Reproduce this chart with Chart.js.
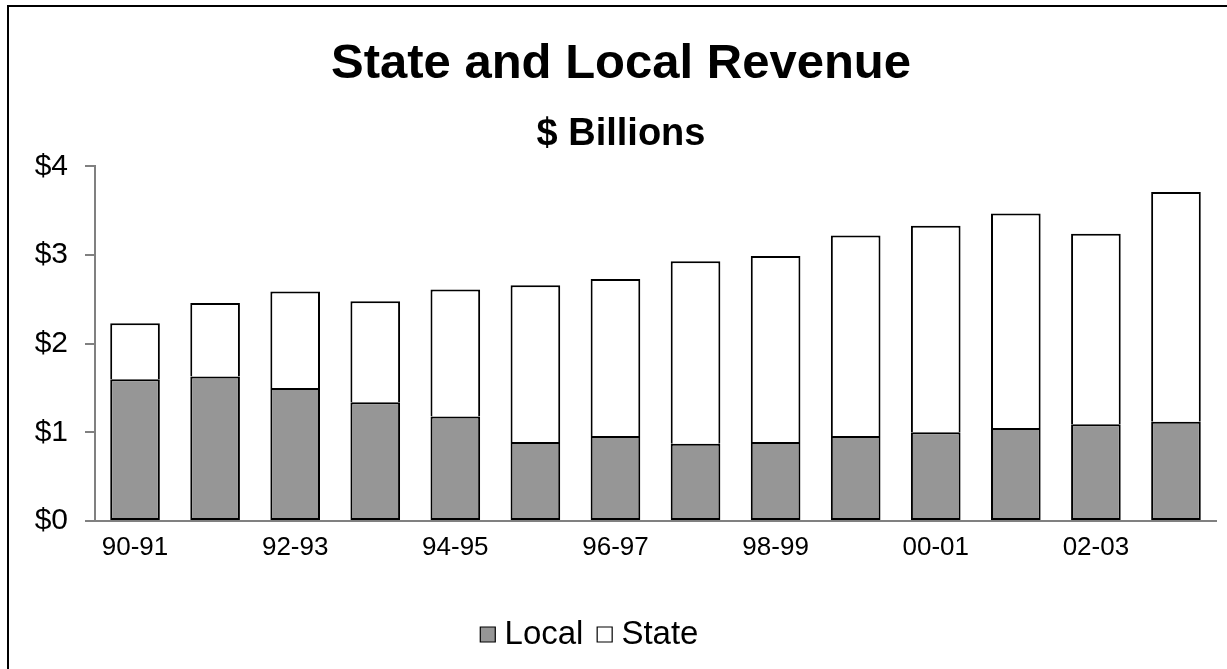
<!DOCTYPE html>
<html>
<head>
<meta charset="utf-8">
<script src="https://cdn.jsdelivr.net/npm/chart.js@4.4.1/dist/chart.umd.min.js"></script>
<style>
  html, body { margin: 0; padding: 0; background: #fff; }
  #wrap { position: relative; width: 1227px; height: 669px; overflow: hidden; }
  #frame { position: absolute; left: 7px; top: 5px; width: 1240px; height: 700px; border: 2px solid #000; box-sizing: border-box; }
  #c { position: absolute; left: 0; top: 0; }
</style>
</head>
<body>
<div id="wrap">
  <div id="frame"></div>
  <canvas id="c" width="1227" height="669"></canvas>
</div>
<script>
const categories = ['90-91','91-92','92-93','93-94','94-95','95-96','96-97','97-98','98-99','99-00','00-01','01-02','02-03','03-04'];
const localValues = [1.60, 1.63, 1.50, 1.34, 1.18, 0.89, 0.96, 0.87, 0.89, 0.96, 1.00, 1.05, 1.09, 1.12];
const totalValues = [2.23, 2.46, 2.59, 2.48, 2.61, 2.66, 2.73, 2.93, 2.99, 3.22, 3.33, 3.47, 3.24, 3.71];
const stateValues = totalValues.map((t, i) => +(t - localValues[i]).toFixed(2));
const yTicks = [0, 1, 2, 3, 4];

const FONT = '"Liberation Sans", Arial, sans-serif';
Chart.defaults.font.family = FONT;
Chart.defaults.color = '#000';

// nudge title/subtitle right and the legend left, as in the reference
const blockShift = {
  id: 'blockShift',
  afterLayout(chart) {
    chart.boxes.forEach(b => {
      if (b === chart.legend) { b.left -= 20; b.right -= 20; }
      else if (b.options && typeof b.options.text === 'string') { b.left += 8; b.right += 8; }
    });
  }
};

new Chart(document.getElementById('c'), {
  type: 'bar',
  data: {
    labels: categories,
    datasets: [
      { label: 'Local', data: localValues, backgroundColor: '#969696', borderColor: '#000', borderWidth: 2, borderSkipped: false, categoryPercentage: 1, barPercentage: 0.62 },
      { label: 'State', data: stateValues, backgroundColor: '#fff', borderColor: '#000', borderWidth: 2, borderSkipped: 'bottom', categoryPercentage: 1, barPercentage: 0.62 }
    ]
  },
  plugins: [blockShift],
  options: {
    responsive: false,
    animation: false,
    layout: { padding: { left: 10, right: 11, top: 35, bottom: 12 } },
    plugins: {
      title: { display: true, text: 'State and Local Revenue', font: { size: 49, weight: 'bold', lineHeight: 1.2 }, color: '#000', padding: { top: 0, bottom: 10 } },
      subtitle: { display: true, text: '$ Billions', font: { size: 38, weight: 'bold', lineHeight: 1.2 }, color: '#000', padding: { top: 8, bottom: 9 } },
      legend: {
        position: 'bottom',
        maxHeight: 60,
        labels: {
          font: { size: 33 }, usePointStyle: true, pointStyle: 'rect', boxWidth: 0.5, boxHeight: 15, padding: 21, color: '#000',
          generateLabels(chart) {
            const items = Chart.defaults.plugins.legend.labels.generateLabels(chart);
            items.forEach(it => { it.lineWidth = 1.2; it.pointStyle = 'rect'; });
            return items;
          }
        }
      },
      tooltip: { enabled: false }
    },
    scales: {
      x: {
        stacked: true,
        grid: { display: false, drawTicks: false },
        border: { display: true, color: '#808080', width: 2 },
        afterFit: (axis) => { axis.height = 76; },
        ticks: {
          autoSkip: false, maxRotation: 0, padding: 11,
          font: { size: 26 },
          callback: function(v, i) { return i % 2 === 0 ? categories[i] : ''; }
        }
      },
      y: {
        stacked: true,
        min: 0, max: 4,
        afterBuildTicks: (axis) => { axis.ticks = yTicks.map(v => ({ value: v })); },
        afterFit: (axis) => { axis.width = 85; },
        grid: { drawOnChartArea: false, drawTicks: true, tickLength: 10, color: '#808080', lineWidth: 2 },
        border: { display: true, color: '#808080', width: 2 },
        ticks: { font: { size: 30 }, padding: 17, callback: v => '$' + v }
      }
    }
  }
});
</script>
</body>
</html>
